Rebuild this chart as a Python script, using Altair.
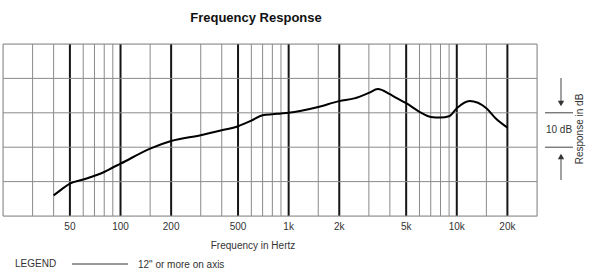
import altair as alt
import pandas as pd

# Frequency response curve (Hz, dB relative)
freq = [40, 45, 50, 60, 70, 80, 90, 100, 150, 200, 300, 400, 500, 600, 700, 800, 900,
        1000, 1500, 2000, 2460, 3000, 3390, 4000, 4310, 5000, 6000, 7000, 8000, 9000,
        10000, 11900, 15000, 17000, 20000]
db = [6.0, 7.9, 9.4, 10.6, 11.7, 12.8, 14.1, 15.2, 19.6, 21.8, 23.5, 24.9, 26.1, 27.7,
      29.3, 29.6, 29.8, 30.0, 31.7, 33.4, 34.2, 35.8, 36.9, 35.4, 34.5, 32.8, 30.3, 28.8,
      28.6, 29.0, 31.3, 33.4, 31.3, 28.4, 25.7]

thin_grid = [20, 30, 40, 60, 70, 80, 90, 150, 300, 400, 600, 700, 800, 900, 1500, 3000,
             4000, 6000, 7000, 8000, 9000, 15000, 30000]
bold_grid = [50, 100, 200, 500, 1000, 2000, 5000, 10000, 20000]
h_grid = [0, 10, 20, 30, 40, 50]
tick_values = [50, 100, 200, 500, 1000, 2000, 5000, 10000, 20000]

FONT = "Liberation Sans"
W, H = 534, 172

xs = alt.Scale(type="log", domain=[20, 30000], nice=False)
ys = alt.Scale(domain=[0, 50], nice=False, zero=False)

curve_df = pd.DataFrame({"f": freq, "db": db})
thin_df = pd.DataFrame({"f": thin_grid})
bold_df = pd.DataFrame({"f": bold_grid})
h_df = pd.DataFrame({"v": h_grid})
tick_df = pd.DataFrame({"f": tick_values})

thin = alt.Chart(thin_df).mark_rule(color="#8a8a8a", strokeWidth=1).encode(
    x=alt.X("f:Q", scale=xs, axis=None))
bold = alt.Chart(bold_df).mark_rule(color="#151515", strokeWidth=2).encode(
    x=alt.X("f:Q", scale=xs, axis=None))
hlines = alt.Chart(h_df).mark_rule(color="#8a8a8a", strokeWidth=1).encode(
    y=alt.Y("v:Q", scale=ys, axis=None))

ticks = alt.Chart(tick_df).mark_text(font=FONT, fontSize=10, color="#333333",
                                     baseline="middle").encode(
    x=alt.X("f:Q", scale=xs, axis=None),
    y=alt.value(H + 11),
    text=alt.Text("lab:N"),
).transform_calculate(lab="datum.f >= 1000 ? (datum.f/1000) + 'k' : '' + datum.f")

curve = alt.Chart(curve_df).mark_line(color="black", strokeWidth=2,
                                      interpolate="monotone").encode(
    x=alt.X("f:Q", scale=xs, axis=None),
    y=alt.Y("db:Q", scale=ys, axis=None))

def txt(s, x, y, size=10, weight="normal", align="center", angle=0, color="#333333"):
    return alt.Chart(pd.DataFrame({"t": [s]})).mark_text(
        font=FONT, fontSize=size, fontWeight=weight, align=align, baseline="middle",
        angle=angle, color=color).encode(x=alt.value(x), y=alt.value(y), text="t:N")

def rule(x1, x2, y1, y2, color="#444444", w=1):
    return alt.Chart(pd.DataFrame({"a": [0]})).mark_rule(color=color, strokeWidth=w).encode(
        x=alt.value(x1), x2=alt.value(x2), y=alt.value(y1), y2=alt.value(y2))

def tri(x, y, shape):
    return alt.Chart(pd.DataFrame({"a": [0]})).mark_point(
        shape=shape, filled=True, color="#333333", size=40, opacity=1).encode(
        x=alt.value(x), y=alt.value(y))

ax = 558  # arrow x (plot coords)
y30 = (50 - 30) / 50 * H
y20 = (50 - 20) / 50 * H

layers = [
    thin, bold, hlines, curve, ticks,
    txt("Frequency Response", 253, -26, size=13, weight="bold", color="#111111"),
    txt("Frequency in Hertz", 250, H + 30),
    txt("LEGEND", 12, H + 48, align="left"),
    rule(69, 125, H + 48, H + 48, color="#333333"),
    txt('12" or more on axis', 135, H + 49, align="left"),
    rule(ax, ax, 34, 58),
    tri(ax, 59.5, "triangle-down"),
    rule(542, 570, y30, y30),
    txt("10 dB", 556, 86, size=10),
    rule(542, 570, y20, y20),
    tri(ax, 112.5, "triangle-up"),
    rule(ax, ax, 114, 136),
    txt("Response in dB", 577, 85, angle=270, size=10),
]

chart = alt.layer(*layers).properties(
    width=W, height=H,
    autosize=alt.AutoSizeParams(type="none"),
    padding={"left": 3, "top": 44, "right": 55, "bottom": 57},
).configure_view(stroke=None).configure(background="white")

chart.save("out.html", embed_options={"renderer": "svg", "actions": False})
